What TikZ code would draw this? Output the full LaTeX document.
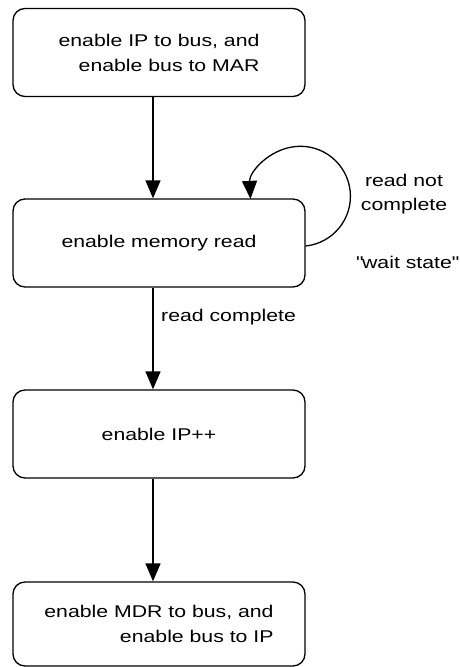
\documentclass[tikz,border=0pt]{standalone}
\usepackage{fontspec}
\setmainfont{Liberation Sans}[FakeStretch=1.25]
\usetikzlibrary{positioning, arrows.meta}
\tikzset{statebox/.style={draw, rounded corners=12pt, minimum width=292pt,
    minimum height=88pt, line width=1.3pt, align=right,
    font=\fontsize{17}{25}\selectfont}}
\tikzset{flow/.style={line width=1.3pt, -{Triangle[length=18pt, width=15pt]}}}
\tikzset{note/.style={font=\fontsize{17}{24}\selectfont, align=center, inner sep=0pt}}

\begin{document}
\begin{tikzpicture}[x=1pt, y=1pt]
  \useasboundingbox (0,0) rectangle (460,-667);

  % ---- the four states of the fetch
  \node[statebox] at (159, -52.5) (ipmar) {enable IP to bus, and\\enable bus to MAR};
  \node[statebox] at (159,-243)   (memrd) {enable memory read};
  \node[statebox] at (159,-434)   (ipinc) {enable IP++};
  \node[statebox, minimum height=84pt] at (159,-624) (mdrip) {enable MDR to bus, and\\enable bus to IP};

  % ---- straight transitions, slightly left of the box centres
  \draw[flow] ([xshift=-6pt]ipmar.south) -- ([xshift=-6pt]memrd.north);
  \draw[flow] ([xshift=-6pt]memrd.south) -- ([xshift=-6pt]ipinc.north);
  \draw[flow] ([xshift=-6pt]ipinc.south) -- ([xshift=-6pt]mdrip.north);

  % ---- the wait loop on the memory read
  \draw[flow] ([yshift=-3pt]memrd.east) arc[start angle=-84, end angle=183, radius=50];

  % ---- transition labels
  \node[note, anchor=west] at (161,-317) (rdok) {read complete};
  \node[note] at (404,-194) (rdnot) {read not\\complete};
  \node[note] at (407,-262) (wait) {\textquotedbl wait state\textquotedbl};

\end{tikzpicture}
\end{document}
